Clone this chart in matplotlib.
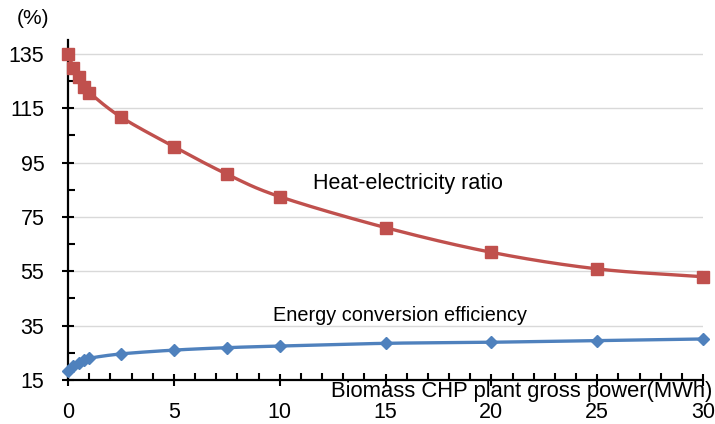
import numpy as np
import matplotlib
matplotlib.use("Agg")
import matplotlib.pyplot as plt
from matplotlib.ticker import MultipleLocator

plt.rcParams['font.family'] = ['Liberation Sans', 'DejaVu Sans']

power = [0, 0.25, 0.5, 0.75, 1, 2.5, 5, 7.5, 10, 15, 20, 25, 30]
heat_ratio = [135, 130, 126.5, 123, 120.8, 111.8, 100.9, 90.8, 82.5, 71.1, 62.0, 55.9, 53.0]
efficiency = [18.2, 20.0, 21.2, 22.2, 23.0, 24.6, 26.0, 26.9, 27.5, 28.5, 28.9, 29.5, 30.1]
y_ticks = [15, 35, 55, 75, 95, 115, 135]
x_ticks = [0, 5, 10, 15, 20, 25, 30]

RED = '#C0504D'
BLUE = '#4F81BD'


def smooth(xs, ys, n=30):
    """Catmull-Rom smoothing of a polyline (Excel-like smoothed line)."""
    xs = np.asarray(xs, float)
    ys = np.asarray(ys, float)
    P = np.column_stack([xs, ys])
    P = np.vstack([2 * P[0] - P[1], P, 2 * P[-1] - P[-2]])
    out = []
    t = np.linspace(0, 1, n, endpoint=False)[:, None]
    for i in range(1, len(P) - 2):
        p0, p1, p2, p3 = P[i - 1], P[i], P[i + 1], P[i + 2]
        seg = 0.5 * ((2 * p1) + (-p0 + p2) * t + (2 * p0 - 5 * p1 + 4 * p2 - p3) * t ** 2
                     + (-p0 + 3 * p1 - 3 * p2 + p3) * t ** 3)
        out.append(seg)
    out.append(P[-2][None, :])
    out = np.vstack(out)
    return out[:, 0], out[:, 1]


fig = plt.figure(figsize=(7.15, 4.24), dpi=100)
ax = fig.add_axes([68 / 715, 1 - 380 / 424, 635 / 715, (380 - 40.4) / 424])

ax.set_xlim(0, 30)
ax.set_ylim(15, 140)

for yv in y_ticks[1:]:
    ax.axhline(yv, color='#d9d9d9', lw=1.0, zorder=0)

sx, sy = smooth(power, heat_ratio)
ax.plot(sx, sy, color=RED, lw=2.4, zorder=3, clip_on=False)
ax.plot(power, heat_ratio, ls='none', marker='s', ms=8, color=RED, zorder=4, clip_on=False)

sx, sy = smooth(power, efficiency)
ax.plot(sx, sy, color=BLUE, lw=2.4, zorder=3, clip_on=False)
ax.plot(power, efficiency, ls='none', marker='D', ms=6, color=BLUE, zorder=4, clip_on=False)

for s in ['top', 'right']:
    ax.spines[s].set_visible(False)
for s in ['left', 'bottom']:
    ax.spines[s].set_linewidth(1.6)
    ax.spines[s].set_color('black')

ax.set_xticks(x_ticks)
ax.set_yticks(y_ticks)
ax.xaxis.set_minor_locator(MultipleLocator(1))
ax.set_yticks([25, 45, 65, 85, 105, 125], minor=True)

ax.tick_params(axis='both', which='major', direction='inout', length=9, width=1.5,
               labelsize=15.5)
ax.tick_params(axis='both', which='minor', direction='in', length=5, width=1.5)
ax.tick_params(axis='y', which='major', pad=12.5)
ax.tick_params(axis='x', which='major', pad=11)

ax.text(16.06, 87.5, 'Heat-electricity ratio', fontsize=15.5, ha='center', va='center')
ax.text(15.7, 38.9, 'Energy conversion efficiency', fontsize=14.3, ha='center', va='center')

fig.text(712 / 715, 1 - 391 / 424, 'Biomass CHP plant gross power(MWh)', fontsize=15.8,
         ha='right', va='center')
fig.text(33 / 715, 1 - 18 / 424, '(%)', fontsize=15, ha='center', va='center')

fig.savefig('out.png', dpi=100)
